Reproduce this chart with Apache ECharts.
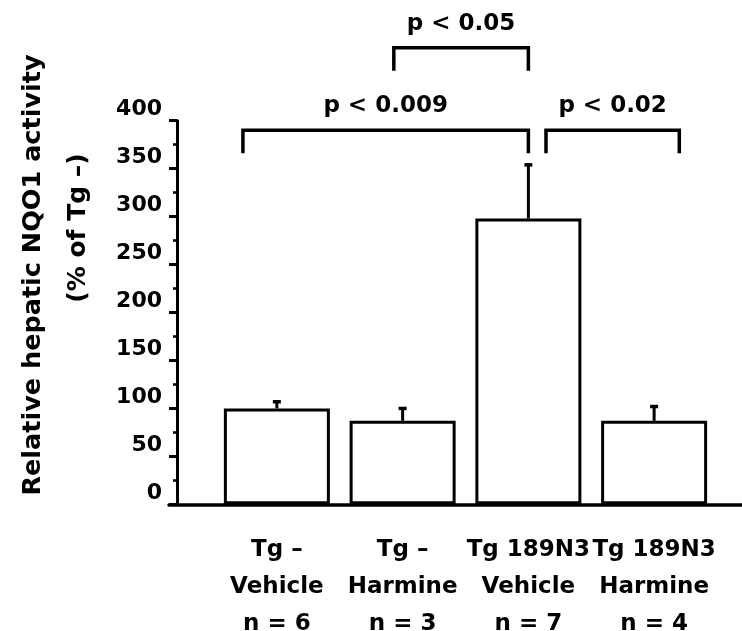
<!DOCTYPE html>
<html>
<head>
<meta charset="utf-8">
<script src="https://cdn.jsdelivr.net/npm/echarts@6/dist/echarts.min.js"></script>
<style>
  html, body { margin: 0; padding: 0; background: #fff; }
  #chart { width: 742px; height: 631px; }
</style>
</head>
<body>
<div id="chart"></div>
<script>
// groups on the x axis
const categories = ['Tg –\nVehicle\nn = 6', 'Tg –\nHarmine\nn = 3', 'Tg 189N3\nVehicle\nn = 7', 'Tg 189N3\nHarmine\nn = 4']
// mean activity (% of Tg –) and upper error
const meanValues = [100, 87, 298, 87]
const errValues = [8, 14, 57, 16]
// y ticks
const yTicks = [0, 50, 100, 150, 200, 250, 300, 350, 400]
// significance comparisons
const compFrom = [0, 1, 2]
const compTo = [2, 2, 3]
const compLevel = [390, 476, 390]
const compText = ['p < 0.009', 'p < 0.05', 'p < 0.02']

const font = 'DejaVu Sans'
// where each bracket leg sits, as a share of the band width from the bar centre
const legShift = [[-0.27, 0], [-0.07, 0], [0.14, 0.2]]

const chart = echarts.init(document.getElementById('chart'))

function renderErr(params, api) {
  const i = api.value(0)
  const v = api.value(1)
  const e = api.value(2)
  const base = api.coord([i, v])
  const top = api.coord([i, v + e])
  return {
    type: 'group',
    children: [
      { type: 'line', shape: { x1: base[0], y1: base[1], x2: top[0], y2: top[1] }, style: { stroke: '#000', lineWidth: 3 } },
      { type: 'line', shape: { x1: top[0] - 4, y1: top[1] + 1, x2: top[0] + 4, y2: top[1] + 1 }, style: { stroke: '#000', lineWidth: 3.5 } }
    ]
  }
}

function renderBracket(params, api) {
  const k = params.dataIndex
  const band = api.size([1, 0])[0]
  const a = api.coord([api.value(0), api.value(2)])
  const b = api.coord([api.value(1), api.value(2)])
  const x1 = a[0] + legShift[k][0] * band
  const x2 = b[0] + legShift[k][1] * band
  const y = a[1]
  return {
    type: 'group',
    children: [
      {
        type: 'polyline',
        shape: { points: [[x1, y + 23], [x1, y], [x2, y], [x2, y + 23]] },
        style: { stroke: '#000', lineWidth: 3.5, fill: null }
      },
      {
        type: 'text',
        x: (x1 + x2) / 2,
        y: y - 24,
        style: {
          text: compText[k],
          fill: '#000',
          font: 'bold 23px "' + font + '"',
          align: 'center',
          verticalAlign: 'middle'
        }
      }
    ]
  }
}

chart.setOption({
  animation: false,
  backgroundColor: '#fff',
  textStyle: { fontFamily: font, fontWeight: 'bold', color: '#000' },
  grid: [
    { left: 214, right: 25, top: 120.7, bottom: 126.7, outerBoundsMode: 'none' },
    { left: 169, right: 0, top: 120.7, bottom: 126.7, outerBoundsMode: 'none' }
  ],
  xAxis: [
    {
      type: 'category',
      data: categories,
      axisLine: { show: false },
      axisTick: { show: false },
      axisLabel: {
        interval: 0,
        margin: 27,
        fontSize: 23,
        lineHeight: 37,
        fontWeight: 'bold',
        fontFamily: font,
        color: '#000'
      }
    },
    {
      gridIndex: 1,
      type: 'value',
      min: 0,
      max: 1,
      axisLine: { onZero: false, lineStyle: { color: '#000', width: 3.5 } },
      axisTick: { show: false },
      axisLabel: { show: false },
      splitLine: { show: false }
    }
  ],
  yAxis: [
    {
      type: 'value',
      min: yTicks[0],
      max: yTicks[yTicks.length - 1],
      interval: 50,
      offset: 37,
      axisLine: { show: true, lineStyle: { color: '#000', width: 3 } },
      axisTick: { show: true, length: 8, lineStyle: { color: '#000', width: 3 } },
      minorTick: { show: true, splitNumber: 2, length: 4, lineStyle: { color: '#000', width: 2.5 } },
      splitLine: { show: false },
      axisLabel: {
        margin: 15,
        fontSize: 22,
        fontWeight: 'bold',
        fontFamily: font,
        color: '#000',
        verticalAlign: 'bottom'
      }
    },
    { gridIndex: 1, type: 'value', min: 0, max: 1, show: false }
  ],
  graphic: [
    {
      type: 'text',
      x: 33,
      y: 275,
      rotation: Math.PI / 2,
      style: {
        text: 'Relative hepatic NQO1 activity',
        font: 'bold 25.5px "' + font + '"',
        fill: '#000',
        align: 'center',
        verticalAlign: 'middle'
      }
    },
    {
      type: 'text',
      x: 78,
      y: 228,
      rotation: Math.PI / 2,
      style: {
        text: '(% of Tg –)',
        font: 'bold 25px "' + font + '"',
        fill: '#000',
        align: 'center',
        verticalAlign: 'middle'
      }
    }
  ],
  series: [
    {
      type: 'custom',
      renderItem: renderErr,
      data: meanValues.map((v, i) => [i, v, errValues[i]]),
      z: 1
    },
    {
      type: 'bar',
      data: meanValues,
      barWidth: 106,
      itemStyle: { color: '#fff', borderColor: '#000', borderWidth: 3 },
      z: 2
    },
    {
      type: 'custom',
      renderItem: renderBracket,
      data: compFrom.map((f, k) => [f, compTo[k], compLevel[k]]),
      clip: false,
      z: 3
    }
  ]
})
</script>
</body>
</html>
